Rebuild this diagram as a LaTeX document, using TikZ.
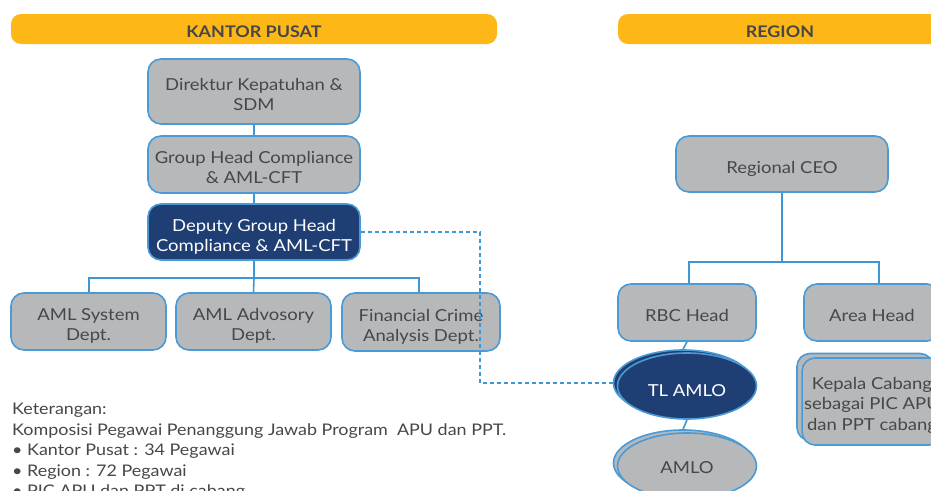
\documentclass[tikz,border=0pt]{standalone}
\usepackage{fontspec}
\setmainfont{Lato}[FakeStretch=1.12]
\usetikzlibrary{shapes.geometric}
\definecolor{bannerY}{HTML}{FDB817}
\definecolor{boxGray}{HTML}{B7B8BA}
\definecolor{edgeBlue}{HTML}{4A9BD5}
\definecolor{lineBlue}{HTML}{3C97D7}
\definecolor{navy}{HTML}{1F3F74}
\definecolor{txtGray}{HTML}{474747}
% tall invisible rule that lowers a centred label a little
\newcommand{\dropby}[1]{\rule{0pt}{#1}}
\begin{document}
\begin{tikzpicture}[x=1pt,y=-1pt,
  banner/.style={fill=bannerY, rounded corners=10pt, inner sep=0pt},
  bannertext/.style={text=txtGray, inner sep=0pt, font=\fontsize{16}{18}\selectfont\bfseries},
  unit/.style={rectangle, rounded corners=13pt, fill=boxGray, draw=edgeBlue, line width=1.6pt,
    align=center, text=txtGray, inner sep=2pt, font=\fontsize{16.5}{20}\selectfont},
  lead/.style={unit, fill=navy, text=white},
  oval/.style={ellipse, fill=boxGray, draw=edgeBlue, line width=1.6pt, inner sep=0pt,
    minimum width=139pt, minimum height=66pt, text=txtGray, font=\fontsize{16.5}{20}\selectfont},
  link/.style={draw=lineBlue, line width=1.6pt},
  dotted link/.style={link, line width=1.3pt, dash pattern=on 4pt off 3pt},
  note/.style={anchor=base west, inner sep=0pt, text=txtGray, font=\fontsize{16}{18}\selectfont}
]
\useasboundingbox (0,0) rectangle (931,490);
\clip (0,0) rectangle (931,490);
\fill[white] (0,0) rectangle (931,490);

% section banners
\node[banner, minimum width=486pt, minimum height=30pt] (hq) at (254,29) {};
\node[bannertext] (hqt) at (254,32) {KANTOR PUSAT};
\node[banner, minimum width=340pt, minimum height=30pt] (rg) at (788,29) {};
\node[bannertext] (rgt) at (780,32) {REGION};

% head office chain
\node[unit, minimum width=212pt, minimum height=65pt] (dir) at (254,91.5) {\dropby{19pt}Direktur Kepatuhan \&\\SDM};
\node[unit, minimum width=212pt, minimum height=57pt] (gh) at (254,164.5) {\dropby{19pt}Group Head Compliance\\\& AML-CFT};
\node[lead, minimum width=212pt, minimum height=56pt] (dep) at (254,232) {\dropby{22pt}Deputy Group Head\\Compliance \& AML-CFT};

\node[unit, minimum width=155pt, minimum height=57pt] (ams) at (88.5,321.5) {\dropby{21pt}AML System\\Dept.};
\node[unit, minimum width=155pt, minimum height=57pt] (ama) at (253.5,321.5) {\dropby{21pt}AML Advosory\\Dept.};
\node[unit, minimum width=158pt, minimum height=58pt] (fca) at (421,322) {\dropby{21pt}Financial Crime\\Analysis Dept.};

\coordinate (bus) at (254,278);
\draw[link] (dir.south) -- (gh.north);
\draw[link] (gh.south) -- (dep.north);
\draw[link] (dep.south) -- (bus);
\draw[link] (bus) -| ([xshift=0.5pt]ams.north);
\draw[link] (bus) -- (ama.north);
\draw[link] (bus) -| ([xshift=-2pt]fca.north);

% region chain
\node[unit, minimum width=212pt, minimum height=56pt] (ceo) at (782,164) {\dropby{22pt}Regional CEO};
\node[unit, minimum width=138pt, minimum height=57pt] (rbc) at (687,312.5) {\dropby{18pt}RBC Head};
\node[unit, minimum width=136pt, minimum height=57pt] (area) at (872,312.5) {\dropby{18pt}Area Head};

\coordinate (rbus) at (782,262);
\draw[link] (ceo.south) -- (rbus);
\draw[link] (rbus) -| ([xshift=2pt]rbc.north);
\draw[link] (rbus) -| ([xshift=7pt]area.north);

% stacked ovals
\node[oval, fill=navy] (tlb) at (683,383) {};
\node[oval, fill=navy, text=white] (tl) at (687,386) {\dropby{22pt}TL AMLO};
\node[oval] (amb) at (683,463) {};
\node[oval] (aml) at (687,466) {\dropby{16pt}AMLO};
\draw[link] (rbc.south) -- (tlb.north);
\draw[link] (tl.south) -- (amb.north);

% stacked branch box
\node[unit, minimum width=136pt, minimum height=87pt] (kcb) at (865,397) {};
\node[unit, minimum width=136pt, minimum height=87pt, font=\fontsize{16.5}{20.5}\selectfont] (kc) at (872,401.5) {\dropby{19pt}Kepala Cabang\\sebagai PIC APU\\dan PPT cabang};

% dashed reporting line
\coordinate (dk) at (480,0);
\draw[dotted link] (dep.east) -- (dep.east -| dk) -- (dk |- tlb.west) -- (tlb.west);

% notes
\node[note] (n1) at (12,414) {Keterangan:};
\node[note] (n2) at (12,435) {Komposisi Pegawai Penanggung Jawab Program \ APU dan PPT.};
\node[note] (n3) at (12,455.5) {\textbullet\ Kantor Pusat : 34 Pegawai};
\node[note] (n4) at (12,476) {\textbullet\ Region : 72 Pegawai};
\node[note] (n5) at (12,496.5) {\textbullet\ PIC APU dan PPT di cabang};
\end{tikzpicture}
\end{document}
